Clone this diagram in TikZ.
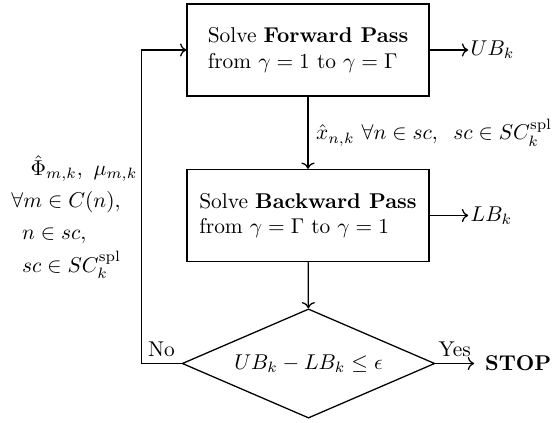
\documentclass[tikz,border=0pt]{standalone}
\usepackage{amsmath,amssymb}
\usetikzlibrary{positioning,arrows.meta,shapes.geometric,calc}
\tikzset{
    base/.style={align=center},
    passbox/.style={base, rectangle, draw, semithick, align=left,
                    minimum width=113pt, minimum height=43pt},
    test/.style={base, diamond, draw, semithick, aspect=2.3, inner sep=0pt,
                 minimum width=118pt, minimum height=51pt},
    flow/.style={->, semithick},
    note/.style={inner sep=1pt},
    answer/.style={inner sep=3pt}
}

\begin{document}
\begin{tikzpicture}[x=0.467pt, y=-0.467pt]
  \useasboundingbox (0,0) rectangle (552,423);

  \node[passbox] (fwd) at (308,50) {Solve \textbf{Forward Pass}\\from $\gamma=1$ to $\gamma=\Gamma$};
  \node[passbox] (bwd) at (308,215.5) {Solve \textbf{Backward Pass}\\from $\gamma=\Gamma$ to $\gamma=1$};
  \node[test] (chk) at (308.5,363.5) {$UB_k - LB_k \leq \epsilon$};

  \node[note] (ub) [right=18pt of fwd] {$UB_k$};
  \node[note] (lb) [right=18pt of bwd] {$LB_k$};
  \node[note, inner sep=5pt] (stop) [right=18pt of chk] {\textbf{STOP}};
  \coordinate (corner) at ($(chk.west)+(-18.8pt,0)$);

  \node[note, align=left, anchor=west, inner sep=0pt] (mults) at (11,217)
    {\hspace*{9pt}$\hat{\Phi}_{m,k},\ \mu_{m,k}$\\[3pt]
     $\forall m \in C(n),$\\[3pt]
     \hspace*{5pt}$n \in sc,$\\[3pt]
     \hspace*{5pt}$sc \in SC_k^{\mathrm{spl}}$};

  \draw[flow] (fwd) -- (ub);
  \draw[flow] (bwd) -- (lb);
  \draw[flow] (fwd) -- node[note, right, xshift=2.5pt] {$\hat{x}_{n,k}\ \forall n \in sc,\;\; sc \in SC_k^{\mathrm{spl}}$} (bwd);
  \draw[flow] (bwd) -- (chk);
  \draw[flow] (chk) -- node[answer, above] {Yes} (stop);
  \draw[flow] (chk.west) -- node[answer, above] {No} (corner) |- (fwd.west);
\end{tikzpicture}
\end{document}
